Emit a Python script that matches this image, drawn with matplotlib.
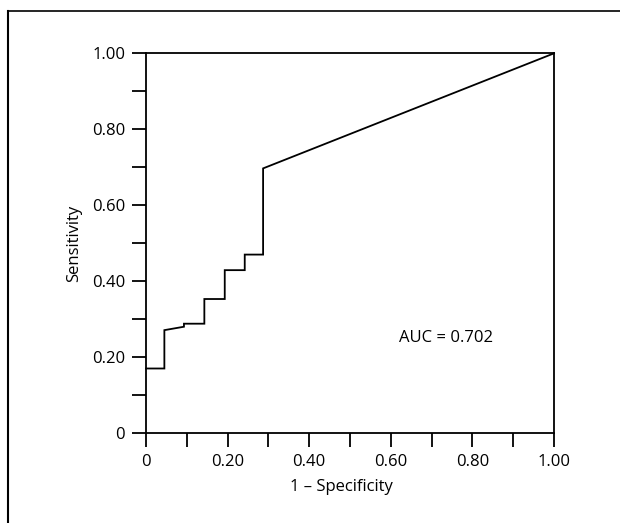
'''
ROC curve, single model (AUC = 0.702)
'''

# loads
import numpy as np
import matplotlib
matplotlib.use("Agg")
import matplotlib.pyplot as plt
from matplotlib.lines import Line2D

plt.rcParams['font.family'] = ['Open Sans', 'DejaVu Sans']

# data
fpr = [0, 0.045, 0.045, 0.093, 0.093, 0.143, 0.143, 0.193, 0.193, 0.242, 0.242, 0.287, 0.287, 1.0]
tpr = [0.17, 0.17, 0.271, 0.280, 0.288, 0.288, 0.353, 0.353, 0.429, 0.429, 0.470, 0.470, 0.697, 1.0]
auc_label = "AUC = 0.702"

tick_vals = np.round(np.arange(0, 1.01, 0.1), 1)
tick_labels = ["0", "", "0.20", "", "0.40", "", "0.60", "", "0.80", "", "1.00"]

text_size = 12

## plot
fig = plt.figure(figsize=(6.2, 5.23), dpi=100)
ax = fig.add_axes([0.2355, 0.172, 0.658, 0.726])
ax.plot(fpr, tpr, color="black", lw=1.3, solid_joinstyle="miter", clip_on=False)

ax.set_xlim(0, 1)
ax.set_ylim(0, 1)
ax.set_xticks(tick_vals)
ax.set_xticklabels(tick_labels)
ax.set_yticks(tick_vals)
ax.set_yticklabels(tick_labels)
ax.tick_params(axis='both', direction='out', length=10, width=1.3,
               pad=5, labelsize=text_size, colors="black")
for sp in ax.spines.values():
    sp.set_linewidth(1.3)

ax.set_xlabel("1 \u2013 Specificity", size=text_size)
ax.set_ylabel("Sensitivity", size=text_size)
ax.xaxis.set_label_coords(0.48, -0.122)
ax.yaxis.set_label_coords(-0.157, 0.5)

ax.text(0.62, 0.25, auc_label, size=text_size, ha="left", va="center")

# outer frame (left and top edges only, as in the scan)
fig.add_artist(Line2D([8 / 620, 8 / 620], [0, 1 - 11 / 523], color="black", lw=1.5,
                      transform=fig.transFigure))
fig.add_artist(Line2D([8 / 620, 1], [1 - 11 / 523, 1 - 11 / 523], color="black", lw=1.2,
                      transform=fig.transFigure))

plt.savefig("out.png", dpi=100)
